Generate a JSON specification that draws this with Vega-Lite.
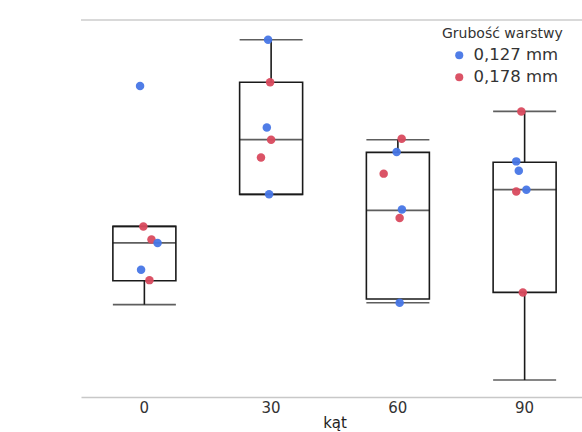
{
  "$schema": "https://vega.github.io/schema/vega-lite/v6.json",
  "width": 501,
  "height": 377,
  "autosize": {"type": "none"},
  "padding": {"left": 81, "top": 20, "right": 0, "bottom": 35},
  "background": "white",
  "config": {
    "view": {"stroke": "transparent"},
    "axis": {"grid": false, "domainColor": "#c8c8c8", "domainWidth": 1.5, "tickColor": "#c8c8c8", "labelColor": "#333333", "titleColor": "#222222", "labelFont": "DejaVu Sans", "titleFont": "DejaVu Sans", "titleFontWeight": "normal"}
  },
  "datasets": {
    "boxes": [
      {"kat": "0", "lo": 1.48, "q1": 1.734, "med": 2.135, "q3": 2.31, "hi": 2.31},
      {"kat": "30", "lo": 2.65, "q1": 2.65, "med": 3.23, "q3": 3.84, "hi": 4.29},
      {"kat": "60", "lo": 1.50, "q1": 1.54, "med": 2.48, "q3": 3.096, "hi": 3.23},
      {"kat": "90", "lo": 0.68, "q1": 1.61, "med": 2.70, "q3": 2.99, "hi": 3.53}
    ],
    "points": [
      {"kat": "0", "sa": 3.80, "grubosc": "0,127 mm", "jitter": -0.034},
      {"kat": "0", "sa": 2.31, "grubosc": "0,178 mm", "jitter": -0.008},
      {"kat": "0", "sa": 2.17, "grubosc": "0,178 mm", "jitter": 0.056},
      {"kat": "0", "sa": 2.135, "grubosc": "0,127 mm", "jitter": 0.104},
      {"kat": "0", "sa": 1.85, "grubosc": "0,127 mm", "jitter": -0.026},
      {"kat": "0", "sa": 1.74, "grubosc": "0,178 mm", "jitter": 0.04},
      {"kat": "30", "sa": 4.29, "grubosc": "0,127 mm", "jitter": -0.024},
      {"kat": "30", "sa": 3.84, "grubosc": "0,178 mm", "jitter": -0.008},
      {"kat": "30", "sa": 3.36, "grubosc": "0,127 mm", "jitter": -0.034},
      {"kat": "30", "sa": 3.23, "grubosc": "0,178 mm", "jitter": 0.0},
      {"kat": "30", "sa": 3.04, "grubosc": "0,178 mm", "jitter": -0.08},
      {"kat": "30", "sa": 2.65, "grubosc": "0,127 mm", "jitter": -0.016},
      {"kat": "60", "sa": 3.24, "grubosc": "0,178 mm", "jitter": 0.03},
      {"kat": "60", "sa": 3.10, "grubosc": "0,127 mm", "jitter": -0.01},
      {"kat": "60", "sa": 2.87, "grubosc": "0,178 mm", "jitter": -0.112},
      {"kat": "60", "sa": 2.49, "grubosc": "0,127 mm", "jitter": 0.032},
      {"kat": "60", "sa": 2.40, "grubosc": "0,178 mm", "jitter": 0.014},
      {"kat": "60", "sa": 1.50, "grubosc": "0,127 mm", "jitter": 0.014},
      {"kat": "90", "sa": 3.53, "grubosc": "0,178 mm", "jitter": -0.026},
      {"kat": "90", "sa": 3.00, "grubosc": "0,127 mm", "jitter": -0.066},
      {"kat": "90", "sa": 2.90, "grubosc": "0,127 mm", "jitter": -0.046},
      {"kat": "90", "sa": 2.70, "grubosc": "0,127 mm", "jitter": 0.014},
      {"kat": "90", "sa": 2.68, "grubosc": "0,178 mm", "jitter": -0.066},
      {"kat": "90", "sa": 1.61, "grubosc": "0,178 mm", "jitter": -0.014}
    ]
  },
  "layer": [
    {
      "data": {"name": "boxes"},
      "mark": {"type": "rule", "color": "#1a1a1a", "strokeWidth": 1.6},
      "encoding": {
        "x": {
          "field": "kat", "type": "nominal", "sort": ["0", "30", "60", "90"],
          "scale": {"paddingInner": 0, "paddingOuter": 0, "range": [0, 507]},
          "axis": {"title": "kąt", "labelAngle": 0, "ticks": false, "labelPadding": 3, "labelFontSize": 15, "titleFontSize": 15, "titlePadding": 0}
        },
        "y": {"field": "lo", "type": "quantitative", "scale": {"domain": [0.5, 4.5], "nice": false, "zero": false},
          "axis": {"title": "Sa [µm]", "values": [0.5, 1, 1.5, 2, 2.5, 3, 3.5, 4, 4.5], "labelExpr": "replace(format(datum.value, '.1f'), '.', ',')", "labelFontSize": 15, "titleFontSize": 14.5, "tickSize": 9, "labelPadding": 2, "titlePadding": 16}},
        "y2": {"field": "q1"}
      }
    },
    {
      "data": {"values": [{"top": 4.5}]},
      "mark": {"type": "rule", "color": "#cccccc", "strokeWidth": 1.5},
      "encoding": {"y": {"field": "top", "type": "quantitative", "axis": null}}
    },
    {
      "data": {"name": "boxes"},
      "mark": {"type": "rule", "color": "#1a1a1a", "strokeWidth": 1.6},
      "encoding": {
        "x": {"field": "kat", "type": "nominal", "sort": ["0", "30", "60", "90"]},
        "y": {"field": "q3", "type": "quantitative", "axis": null},
        "y2": {"field": "hi"}
      }
    },
    {
      "data": {"name": "boxes"},
      "mark": {"type": "tick", "color": "#1a1a1a", "thickness": 1.6, "size": 63},
      "encoding": {
        "x": {"field": "kat", "type": "nominal", "sort": ["0", "30", "60", "90"]},
        "y": {"field": "lo", "type": "quantitative", "axis": null}
      }
    },
    {
      "data": {"name": "boxes"},
      "mark": {"type": "tick", "color": "#1a1a1a", "thickness": 1.6, "size": 63},
      "encoding": {
        "x": {"field": "kat", "type": "nominal", "sort": ["0", "30", "60", "90"]},
        "y": {"field": "hi", "type": "quantitative", "axis": null}
      }
    },
    {
      "data": {"name": "boxes"},
      "mark": {"type": "bar", "fill": "white", "fillOpacity": 0, "stroke": "#1a1a1a", "strokeWidth": 1.6, "size": 63},
      "encoding": {
        "x": {"field": "kat", "type": "nominal", "sort": ["0", "30", "60", "90"]},
        "y": {"field": "q1", "type": "quantitative", "axis": null},
        "y2": {"field": "q3"}
      }
    },
    {
      "data": {"name": "boxes"},
      "mark": {"type": "tick", "color": "#1a1a1a", "thickness": 1.8, "size": 63},
      "encoding": {
        "x": {"field": "kat", "type": "nominal", "sort": ["0", "30", "60", "90"]},
        "y": {"field": "med", "type": "quantitative", "axis": null}
      }
    },
    {
      "data": {"name": "points"},
      "mark": {"type": "circle", "size": 72, "opacity": 0.95},
      "encoding": {
        "x": {"field": "kat", "type": "nominal", "sort": ["0", "30", "60", "90"]},
        "y": {"field": "sa", "type": "quantitative", "axis": null},
        "xOffset": {"field": "jitter", "type": "quantitative", "scale": {"domain": [-0.5, 0.5]}},
        "color": {
          "field": "grubosc", "type": "nominal",
          "scale": {"domain": ["0,127 mm", "0,178 mm"], "range": ["#4776e6", "#d94a5e"]},
          "legend": {
            "title": "Grubość warstwy", "orient": "none", "legendX": 361, "legendY": 7,
            "titleFont": "DejaVu Sans", "titleFontSize": 14, "titleFontWeight": "normal", "titleColor": "#333333",
            "labelFont": "DejaVu Sans", "labelFontSize": 16.5, "labelColor": "#333333", "labelOffset": 6,
            "symbolType": "circle", "symbolSize": 65, "symbolOffset": 9, "rowPadding": 5, "titlePadding": 6
          }
        }
      }
    }
  ]
}
